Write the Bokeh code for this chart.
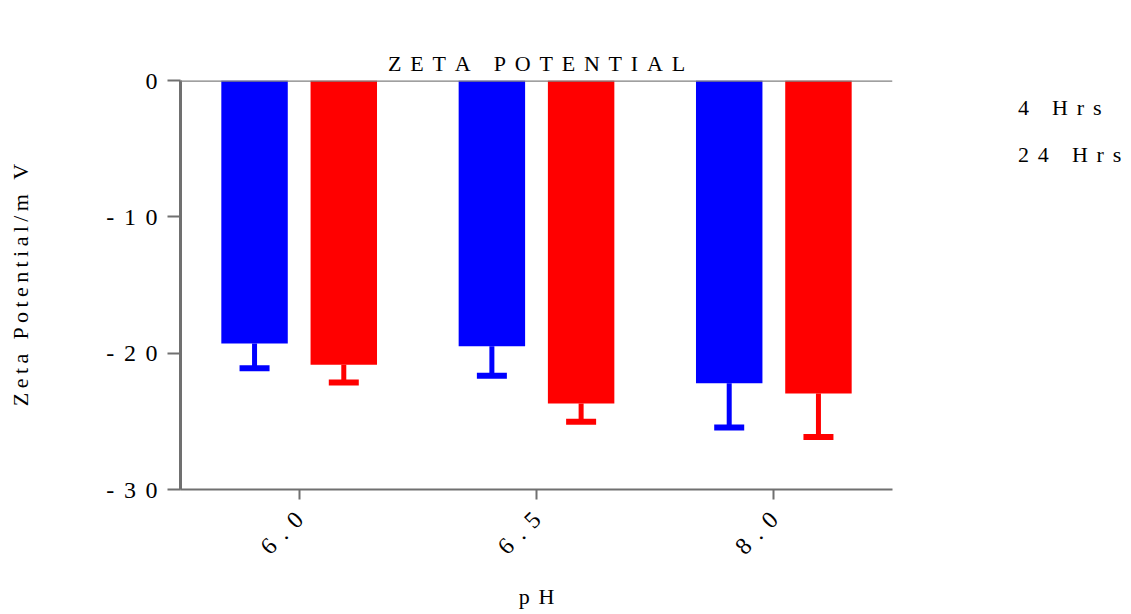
from bokeh.plotting import figure
from bokeh.layouts import row
from bokeh.models import (ColumnDataSource, Range1d, FactorRange, FixedTicker,
                          CategoricalAxis, Span, Legend, LegendItem)
from bokeh.transform import dodge
from bokeh.embed import file_html
from bokeh.resources import INLINE

# Zeta potential (mV) by pH, measured after 4 h and 24 h
ph_levels = ["6.0", "6.5", "8.0"]
series_names = ["4 Hrs", "24 Hrs"]
zeta_4h = [-19.3, -19.5, -22.2]
zeta_4h_err = [1.8, 2.15, 3.25]
zeta_24h = [-20.85, -23.7, -22.95]
zeta_24h_err = [1.3, 1.33, 3.2]
y_ticks = [-30, -20, -10, 0]

SERIF = "Liberation Serif"
THIN = "\u2009"
colors = ["#0000ff", "#ff0000"]


def spaced(s, n=1):
    """Widen letter spacing with n thin spaces between characters."""
    return (THIN * n).join(s)


ph_factors = [spaced(f, 2) for f in ph_levels]

p = figure(width=900, height=614, output_backend="svg", toolbar_location=None,
           x_range=FactorRange(*ph_factors, range_padding=0),
           y_range=Range1d(-30, 0),
           min_border_left=180, min_border_right=8,
           min_border_top=80, min_border_bottom=125)
p.outline_line_color = None
p.grid.visible = False
p.background_fill_color = "white"
p.border_fill_color = "white"

# Bottom (pH) axis -- grabbed before any other x axis is added
xa = p.below[0]
xa.major_label_orientation = 0.785398
xa.axis_label = spaced("pH", 2)
xa.axis_label_text_font = SERIF
xa.axis_label_text_font_style = "normal"
xa.axis_label_text_font_size = "22px"
xa.axis_label_text_color = "black"
xa.axis_label_standoff = 12
xa.major_label_text_font = SERIF
xa.major_label_text_font_size = "24px"
xa.major_label_text_color = "black"
xa.major_label_standoff = 16
xa.axis_line_color = "#707070"
xa.axis_line_width = 2
xa.major_tick_line_color = "#707070"
xa.major_tick_line_width = 2
xa.major_tick_out = 10
xa.major_tick_in = 0

p.title.text = spaced("ZETA POTENTIAL", 2)
p.title.align = "center"
p.title.text_font = SERIF
p.title.text_font_style = "normal"
p.title.text_font_size = "22px"
p.title.text_color = "black"
p.title.standoff = 10

# Blank band between the title and the frame
gap = CategoricalAxis()
gap.axis_line_color = None
gap.major_tick_line_color = None
gap.minor_tick_line_color = None
gap.major_tick_out = 0
gap.major_tick_in = 0
gap.major_label_text_font_size = "0px"
gap.major_label_text_color = None
gap.major_label_standoff = 39
p.add_layout(gap, "above")

# Bars and error bars
offsets = [-0.188, 0.188]
series = [(zeta_4h, zeta_4h_err), (zeta_24h, zeta_24h_err)]
for (vals, errs), color, off in zip(series, colors, offsets):
    src = ColumnDataSource(dict(
        ph=ph_factors,
        top=[0] * len(vals),
        bottom=vals,
        low=[v - e for v, e in zip(vals, errs)],
    ))
    xs = dodge("ph", off, range=p.x_range)
    p.vbar(x=xs, top="top", bottom="bottom", width=0.28, source=src,
           fill_color=color, line_color=None)
    p.segment(x0=xs, y0="bottom", x1=xs, y1="low", source=src,
              line_color=color, line_width=5)
    p.scatter(x=xs, y="low", source=src, marker="dash", size=30,
              line_color=color, line_width=6)

# Zero baseline along the top of the frame
p.add_layout(Span(location=0, dimension="width", line_color="#808080",
                  line_width=2.5))

# Left (value) axis
ya = p.left[0]
ya.ticker = FixedTicker(ticks=y_ticks, minor_ticks=[])
ya.major_label_overrides = {t: spaced(str(t), 2) for t in y_ticks}
ya.axis_label = spaced("Zeta Potential/m V")
ya.axis_label_text_font = SERIF
ya.axis_label_text_font_style = "normal"
ya.axis_label_text_font_size = "22px"
ya.axis_label_text_color = "black"
ya.axis_label_standoff = 70
ya.major_label_text_font = SERIF
ya.major_label_text_font_size = "24px"
ya.major_label_text_color = "black"
ya.major_label_standoff = 10
ya.axis_line_color = "#707070"
ya.axis_line_width = 3
ya.major_tick_line_color = "#707070"
ya.major_tick_line_width = 2
ya.major_tick_out = 13
ya.major_tick_in = 0
ya.minor_tick_line_color = None

# Legend panel to the right of the chart, frame aligned with the chart's
lg = figure(width=231, height=614, output_backend="svg", toolbar_location=None,
            x_range=Range1d(0, 1), y_range=Range1d(0, 1),
            x_axis_type=None, y_axis_type=None,
            min_border_left=0, min_border_right=0,
            min_border_top=80, min_border_bottom=125)
lg.outline_line_color = None
lg.grid.visible = False
swatches = [lg.vbar(x=[], top=[], width=1, fill_color=c, line_color=None)
            for c in colors]
legend = Legend(items=[LegendItem(label=spaced(n, 2), renderers=[r])
                       for n, r in zip(series_names, swatches)],
                location=(38, 320), orientation="vertical")
legend.glyph_width = 58
legend.glyph_height = 28
legend.label_height = 28
legend.label_standoff = 22
legend.spacing = 19
legend.padding = 0
legend.margin = 0
legend.border_line_color = None
legend.background_fill_alpha = 0
legend.label_text_font = SERIF
legend.label_text_font_size = "22px"
legend.label_text_color = "black"
lg.add_layout(legend, "center")

layout = row(p, lg, spacing=0)
open("out.html", "w").write(file_html(layout, INLINE))
